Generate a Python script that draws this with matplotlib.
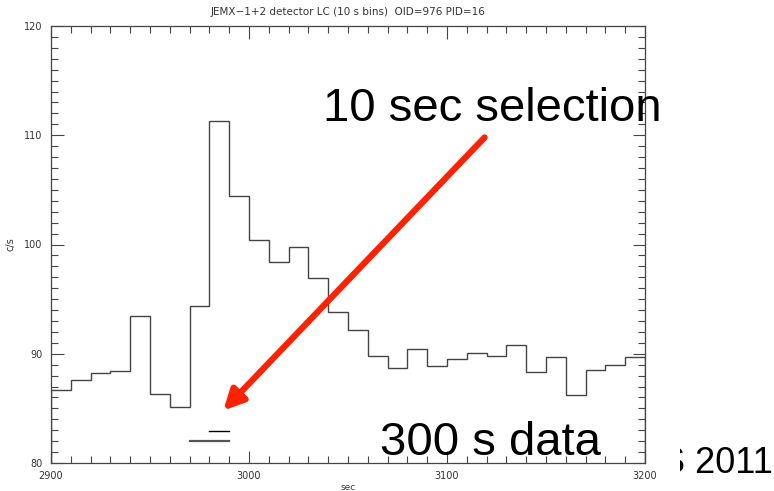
import matplotlib
matplotlib.use('Agg')
import matplotlib.pyplot as plt
import numpy as np
from matplotlib.ticker import MultipleLocator
from matplotlib.transforms import Bbox

# 10 s binned JEM-X light curve, 2900-3200 s
bin_edges = np.arange(2900, 3201, 10)
rates = [86.7, 87.6, 88.2, 88.4, 93.5, 86.3, 85.1, 94.4, 111.35, 104.4,
         100.4, 98.4, 99.8, 96.9, 93.8, 92.2, 89.8, 88.7, 90.4, 88.9,
         89.5, 90.1, 89.75, 90.8, 88.3, 89.7, 86.2, 88.5, 89.0, 89.7]

# selection markers (start, stop, level)
sel_10s = (2980, 2990, 82.9)
sel_20s = (2970, 2990, 82.0)

fig = plt.figure(figsize=(7.74, 4.91), dpi=100)
ax = fig.add_axes([51/774, (491-463)/491, (645-51)/774, (463-26)/491])

grey = '#444444'
ax.stairs(rates, bin_edges, color=grey, lw=1.0)
ax.plot(sel_10s[:2], [sel_10s[2]]*2, color='black', lw=1.0)
ax.plot(sel_20s[:2], [sel_20s[2]]*2, color='#555555', lw=1.6)

ax.set_xlim(2900, 3200)
ax.set_ylim(80, 120)
ax.xaxis.set_major_locator(MultipleLocator(100))
ax.xaxis.set_minor_locator(MultipleLocator(10))
ax.yaxis.set_major_locator(MultipleLocator(10))
ax.yaxis.set_minor_locator(MultipleLocator(1))
ax.tick_params(which='both', direction='in', top=True, right=True,
               color=grey, labelsize=7, labelcolor='#333333', width=0.8)
ax.tick_params(which='major', length=9, pad=6)
ax.tick_params(which='minor', length=5)
for s in ax.spines.values():
    s.set_color(grey)
    s.set_linewidth(0.9)

ax.set_title('JEMX\u22121+2 detector LC (10 s bins)  OID=976 PID=16',
             fontsize=7.5, color='#333333', pad=8)
ax.set_xlabel('sec', fontsize=6.5, color='#333333', labelpad=1)
ax.set_ylabel('c/s', fontsize=7, color='#333333', labelpad=6)

# overlay annotations
big = dict(family='Liberation Sans', fontsize=34, color='black')
fig.text(323/774, 1 - 121/491, '10 sec selection', **big)
fig.text(380/774, 1 - 455/491, '300 s data', **big)
t = fig.text(661/774, 1 - 473/491, 'S 2011',
             family='Liberation Sans', fontsize=26, color='black')
t.set_clip_box(Bbox.from_extents(680, 0, 774, 491))

ax.annotate('', xy=(2987, 84.8), xytext=(3119, 109.8),
            arrowprops=dict(arrowstyle='-|>,head_length=1.2,head_width=0.6',
                            color='#ff2200', lw=4.5, shrinkA=0, shrinkB=0))

fig.savefig('out.png', dpi=100)
